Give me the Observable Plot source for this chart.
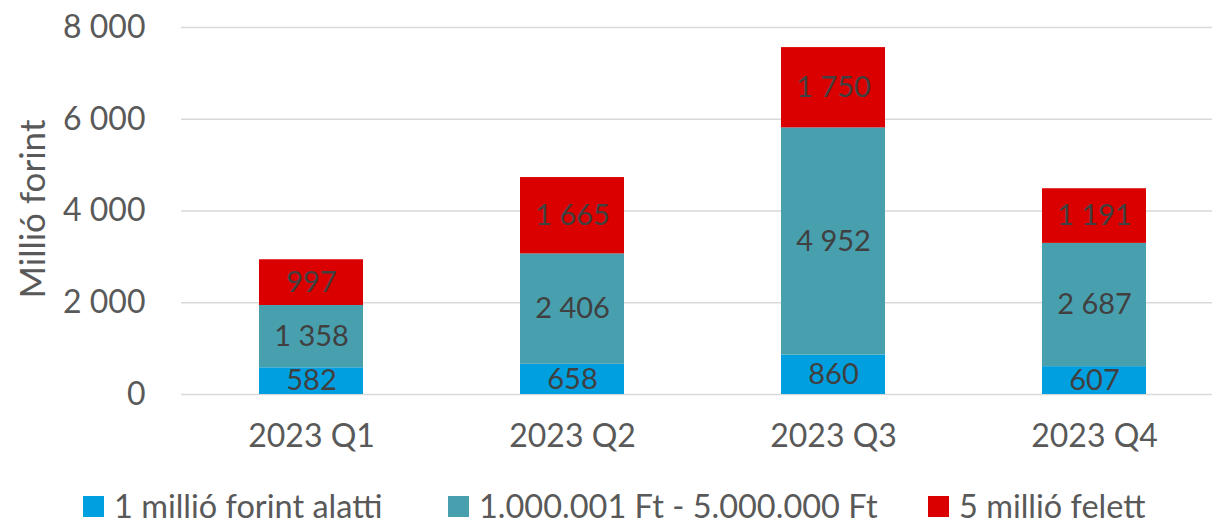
<!DOCTYPE html>
<html>
<head>
<meta charset="utf-8">
<script src="https://cdn.jsdelivr.net/npm/d3@7"></script>
<script src="https://cdn.jsdelivr.net/npm/@observablehq/plot@0.6"></script>
<style>
  html, body { margin: 0; padding: 0; background: #fff; }
  #wrap { position: relative; width: 1212px; height: 526px; overflow: hidden; font-family: Lato, sans-serif; }
  #legend { position: absolute; left: 0; top: 489px; width: 1212px; height: 34px; }
  .item { position: absolute; top: 0; height: 34px; line-height: 34px; display: flex; align-items: center; color: #595959; font-size: 32.5px; white-space: nowrap; }
  .sw { width: 21px; height: 21px; margin-right: 10px; flex: none; }
</style>
</head>
<body>
<div id="wrap"><div id="chart"></div><div id="legend"></div></div>
<script>
const quarters = ["2023 Q1", "2023 Q2", "2023 Q3", "2023 Q4"];
const series = ["1 millió forint alatti", "1.000.001 Ft - 5.000.000 Ft", "5 millió felett"];
const colors = ["#009FE0", "#48A0AF", "#DA0000"];
const under1m = [582, 658, 860, 607];
const mid1to5m = [1358, 2406, 4952, 2687];
const over5m = [997, 1665, 1750, 1191];
const yTicks = [0, 2000, 4000, 6000, 8000];
const legendLeft = [83, 448, 928];

const valuesBySeries = [under1m, mid1to5m, over5m];
const data = [];
series.forEach((s, i) => quarters.forEach((q, j) => data.push({q, s, v: valuesBySeries[i][j]})));

const fmt = v => d3.format(",")(v).replace(/,/g, " ");

const plot = Plot.plot({
  width: 1212,
  height: 480,
  marginLeft: 181,
  marginRight: 0,
  marginTop: 27,
  marginBottom: 86,
  style: {fontFamily: "Lato, sans-serif", background: "#fff", overflow: "visible"},
  x: {domain: quarters, range: [181, 1225], paddingInner: 0.6, paddingOuter: 0.3, label: null},
  y: {domain: [0, 8000], label: null},
  color: {domain: series, range: colors},
  marks: [
    Plot.ruleY(yTicks, {stroke: "#d9d9d9", strokeWidth: 1.5}),
    Plot.barY(data, {x: "q", y: "v", fill: "s", order: series}),
    Plot.text(data, Plot.stackY({x: "q", y: "v", z: "s", order: series, text: d => fmt(d.v), fill: "#404040", fontSize: 29})),
    Plot.axisY(yTicks, {tickSize: 0, tickPadding: 36, tickFormat: fmt, fontSize: 32, fill: "#595959", label: null}),
    Plot.axisX({tickSize: 0, tickPadding: 30, fontSize: 32, fill: "#595959", label: null}),
    Plot.text(["Millió forint"], {frameAnchor: "left", textAnchor: "middle", rotate: -90, dx: -148, dy: -2, fontSize: 35, fill: "#595959"})
  ]
});
document.getElementById("chart").appendChild(plot);

const legend = document.getElementById("legend");
series.forEach((s, i) => {
  const it = document.createElement("div");
  it.className = "item";
  it.style.left = legendLeft[i] + "px";
  const sw = document.createElement("span");
  sw.className = "sw";
  sw.style.background = colors[i];
  const t = document.createElement("span");
  t.textContent = s;
  it.appendChild(sw); it.appendChild(t);
  legend.appendChild(it);
});
</script>
</body>
</html>
